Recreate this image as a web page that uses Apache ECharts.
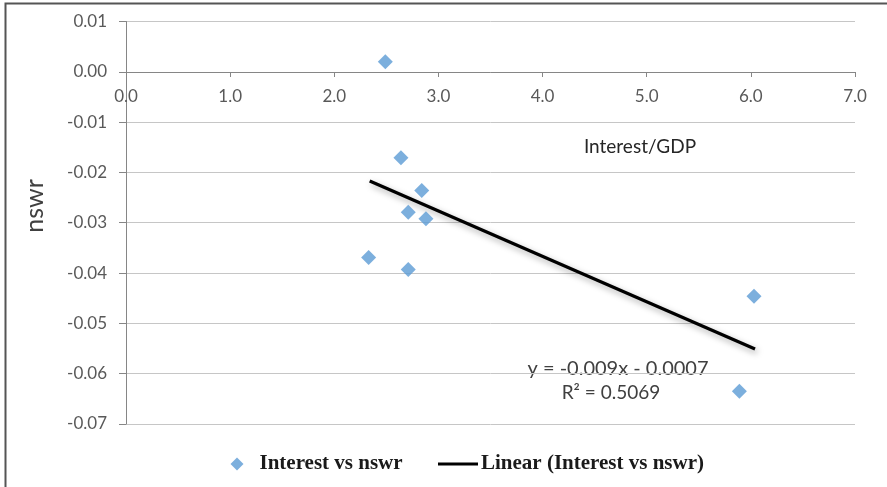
<!DOCTYPE html>
<html>
<head>
<meta charset="utf-8">
<script src="https://cdn.jsdelivr.net/npm/echarts@6/dist/echarts.min.js"></script>
<style>
html,body{margin:0;padding:0;background:#fff;}
#chart{width:887px;height:487px;}
</style>
</head>
<body>
<div id="chart"></div>
<script>
// Data
const interestX = [2.49, 2.64, 2.84, 2.71, 2.88, 2.33, 2.71, 6.03, 5.89];
const nswrY = [0.0020, -0.0171, -0.0236, -0.0279, -0.0292, -0.0369, -0.0393, -0.0446, -0.0635];
const trendX = [2.34, 6.04];
const trendY = [-0.0217, -0.0551];
const xTicks = { min: 0, max: 7, interval: 1 };
const yTicks = { min: -0.07, max: 0.01, interval: 0.01 };
const seriesNames = ['Interest vs nswr', 'Linear (Interest vs nswr)'];
const equationText = 'y = -0.009x - 0.0007';
const r2Text = 'R² = 0.5069';

const scatterData = interestX.map((x, i) => [x, nswrY[i]]);
const trendData = trendX.map((x, i) => [x, trendY[i]]);

const chart = echarts.init(document.getElementById('chart'), null, { renderer: 'canvas' });
const labelFont = 'Lato, "Open Sans", sans-serif';
const legendText = { fontFamily: '"Liberation Serif", "DejaVu Serif", serif', fontWeight: 'bold', fontSize: 21, lineHeight: 22, color: '#1a1a1a' };
chart.setOption({
  animation: false,
  backgroundColor: '#ffffff',
  grid: { left: 126, right: 32, top: 21.5, bottom: 63, containLabel: false },
  xAxis: {
    type: 'value',
    min: xTicks.min, max: xTicks.max, interval: xTicks.interval,
    position: 'bottom',
    offset: -352,
    axisLine: { show: true, onZero: false, lineStyle: { color: '#868686', width: 1 } },
    axisTick: { show: true, length: 5, lineStyle: { color: '#868686' } },
    axisLabel: { color: '#595959', fontSize: 17, fontFamily: labelFont, margin: 16,
      formatter: v => v.toFixed(1) },
    splitLine: { show: false }
  },
  yAxis: {
    type: 'value',
    min: yTicks.min, max: yTicks.max, interval: yTicks.interval,
    axisLine: { show: true, onZero: false, lineStyle: { color: '#868686', width: 1 } },
    axisTick: { show: true, length: 7, lineStyle: { color: '#868686' } },
    axisLabel: { color: '#595959', fontSize: 17, fontFamily: labelFont, margin: 19,
      formatter: v => v.toFixed(2) },
    splitLine: { show: true, lineStyle: { color: '#c6c6c6', width: 1 } }
  },
  legend: [
    {
      left: 230.5, top: 453, padding: 0,
      itemWidth: 13, itemHeight: 13,
      textStyle: Object.assign({}, legendText, { padding: [0, 0, 0, 11] }),
      data: [{ name: seriesNames[0], icon: 'diamond', itemStyle: { color: '#5b9bd5' } }]
    },
    {
      left: 438, top: 453, padding: 0,
      itemWidth: 40, itemHeight: 3,
      textStyle: Object.assign({}, legendText, { padding: [0, 0, 0, -2] }),
      data: [{ name: seriesNames[1], icon: 'rect', itemStyle: { color: '#000000' } }]
    }
  ],
  series: [
    {
      name: seriesNames[0],
      type: 'scatter',
      symbol: 'diamond',
      symbolSize: 15,
      itemStyle: { color: '#5b9bd5' },
      data: scatterData,
      z: 3
    },
    {
      name: seriesNames[1],
      type: 'line',
      showSymbol: false,
      symbol: 'none',
      lineStyle: { color: '#000000', width: 3.2, shadowColor: 'rgba(0,0,0,0.35)', shadowBlur: 6, shadowOffsetX: 2, shadowOffsetY: 3 },
      itemStyle: { color: '#000000' },
      data: trendData,
      z: 2
    }
  ],
  graphic: [
    { type: 'polyline', shape: { points: [[5.5, 487], [5.5, 3.5], [887, 3.5]] },
      style: { stroke: '#555555', lineWidth: 2, fill: null }, silent: true },
    { type: 'text', x: 35, y: 206, rotation: Math.PI / 2,
      style: { text: 'nswr', fontSize: 25, fontFamily: labelFont, fill: '#404040', align: 'center', verticalAlign: 'middle' } },
    { type: 'text', x: 640, y: 147,
      style: { text: 'Interest/GDP', fontSize: 19, fontFamily: labelFont, fill: '#262626', align: 'center', verticalAlign: 'middle' } },
    { type: 'text', x: 618, y: 369,
      style: { text: equationText, fontSize: 20, fontFamily: labelFont, fill: '#404040', align: 'center', verticalAlign: 'middle' } },
    { type: 'text', x: 611, y: 393,
      style: { text: r2Text, fontSize: 19, fontFamily: labelFont, fill: '#404040', align: 'center', verticalAlign: 'middle' } }
  ]
});
</script>
</body>
</html>
